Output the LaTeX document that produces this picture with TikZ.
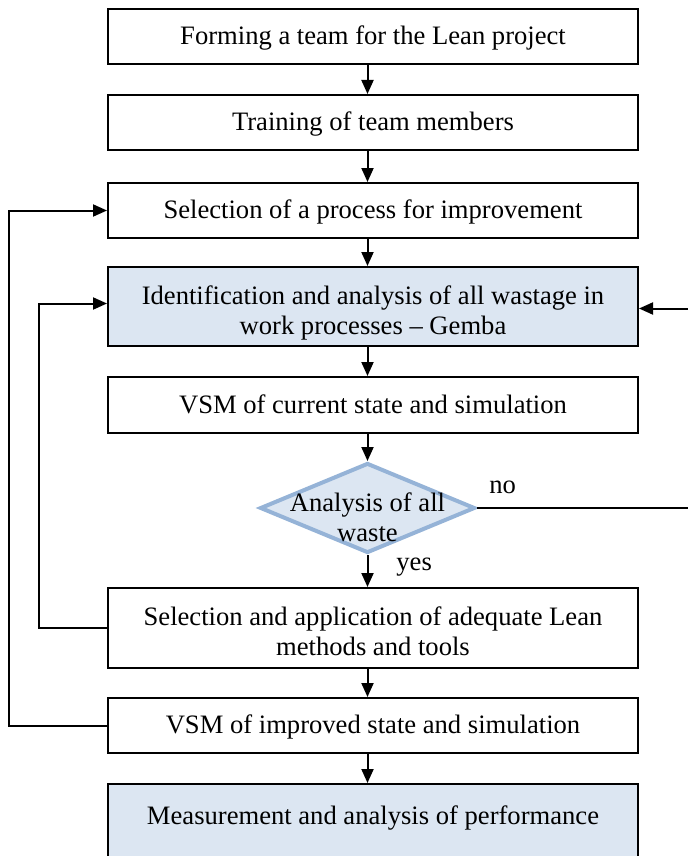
\documentclass[tikz,border=0pt]{standalone}
\usepackage{fontspec}
\setmainfont{Liberation Serif}
\usetikzlibrary{shapes.geometric,arrows.meta,positioning,calc}
\definecolor{leanfill}{HTML}{DCE6F2}
\definecolor{leanedge}{HTML}{95B3D7}

\tikzset{
  stepbox/.style={draw=black, line width=1pt, fill=white, minimum width=265pt, minimum height=27.5pt, inner sep=0pt, align=center, text height=11pt, text depth=2.9pt},
  keybox/.style={stepbox, fill=leanfill},
  decision/.style={diamond, draw=leanedge, line width=2pt, fill=leanfill, minimum width=107.5pt, minimum height=45pt, inner sep=0pt},
  flow/.style={line width=1pt, -{Triangle[length=7pt,width=6pt]}},
}

\begin{document}
\begin{tikzpicture}[x=0.5pt, y=-0.5pt, font=\fontsize{13.3}{15}\selectfont]
  \useasboundingbox (0,0) rectangle (687,856);

  % main chain of steps
  \node[stepbox] (team) at (373, 36.5) {Forming a team for the Lean project};
  \node[stepbox] (train) at (373, 122.5) {Training of team members};
  \node[stepbox] (proc) at (373, 210.5) {Selection of a process for improvement};
  \node[keybox, minimum height=39.5pt, text height=31pt, text depth=3pt] (gemba) at (373, 306.5) {Identification and analysis of all wastage in\\work processes -- Gemba};
  \node[stepbox, minimum height=28pt] (vsmcur) at (373, 405) {VSM of current state and simulation};
  \node[decision] (chk) at (367.5, 508) {};
  \node[align=center, inner sep=0pt] (chktxt) at (367.5, 517) {Analysis of all\\waste};
  \node[stepbox, minimum height=40pt, text height=30pt, text depth=3pt] (tools) at (373, 628) {Selection and application of adequate Lean\\methods and tools};
  \node[stepbox] (vsmimp) at (373, 725.5) {VSM of improved state and simulation};
  \node[keybox, minimum height=39.5pt, text height=9.2pt, text depth=8.5pt] (perf) at (373, 823.5) {Measurement and analysis of performance};

  % answers of the check
  \node[anchor=south west, inner sep=0pt] (no) at (489, 494) {no};
  \node[anchor=west, inner sep=0pt] (yes) at (396, 567) {yes};

  % downward arrows
  \draw[flow] (team.south -| chk) -- (train.north -| chk);
  \draw[flow] (train.south -| chk) -- (proc.north -| chk);
  \draw[flow] (proc.south -| chk) -- (gemba.north -| chk);
  \draw[flow] (gemba.south -| chk) -- (vsmcur.north -| chk);
  \draw[flow] (vsmcur.south -| chk) -- (chk.north);
  \draw[flow] (chk.south) -- (tools.north -| chk);
  \draw[flow] (tools.south -| chk) -- (vsmimp.north -| chk);
  \draw[flow] (vsmimp.south -| chk) -- (perf.north -| chk);

  % feedback loops
  \coordinate (backno) at (705, 508);
  \draw[flow] (chk.east) -- (backno) |- ([yshift=-1pt]gemba.east);
  \draw[flow] (tools.west) -- ++(-68,0) |- ([yshift=1.5pt]gemba.west);
  \draw[flow] (vsmimp.west) -- ++(-98,0) |- (proc.west);
\end{tikzpicture}
\end{document}
